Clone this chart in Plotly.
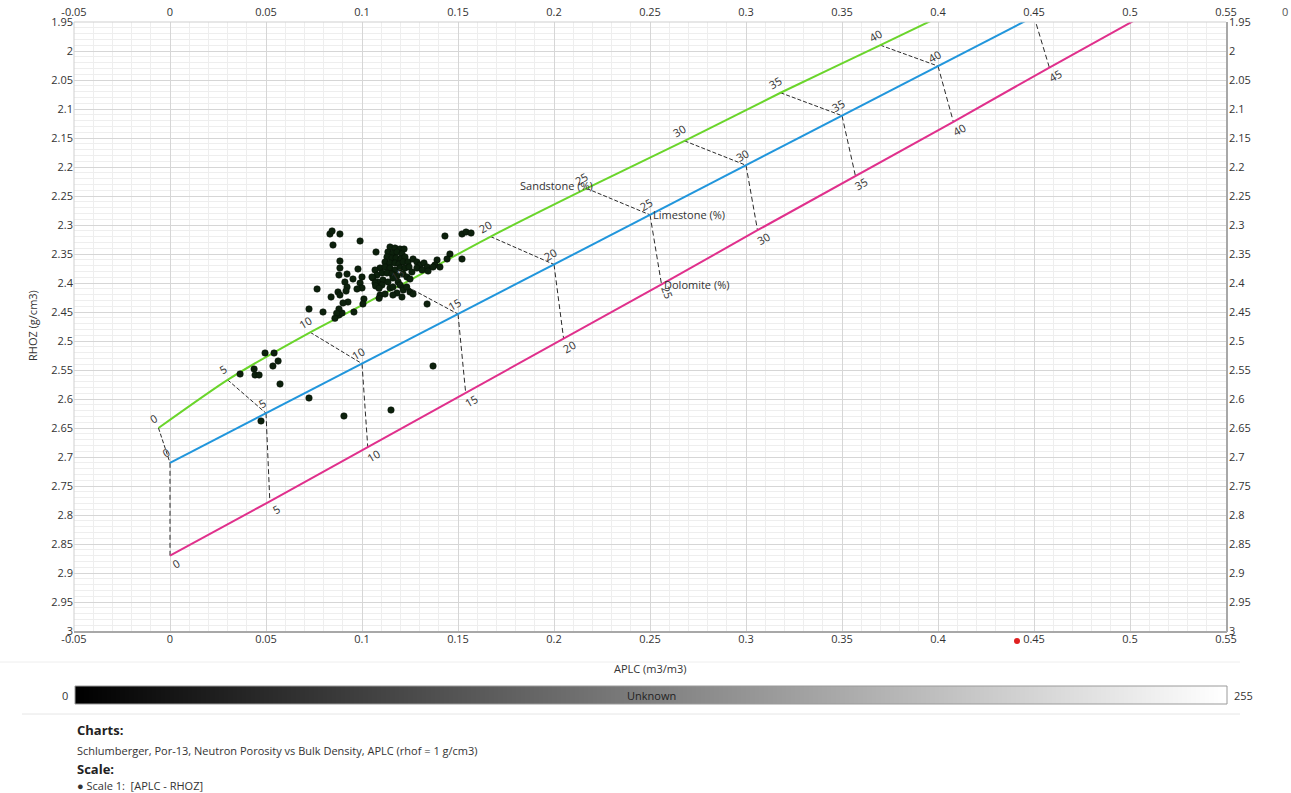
import plotly.graph_objects as go

# ---- chart data -------------------------------------------------------------
x_tick_vals = [-0.05, 0, 0.05, 0.1, 0.15, 0.2, 0.25, 0.3, 0.35, 0.4, 0.45, 0.5, 0.55]
x_tick_text = ["-0.05", "0", "0.05", "0.1", "0.15", "0.2", "0.25", "0.3", "0.35",
               "0.4", "0.45", "0.5", "0.55"]
y_tick_vals = [1.95, 2, 2.05, 2.1, 2.15, 2.2, 2.25, 2.3, 2.35, 2.4, 2.45, 2.5, 2.55,
               2.6, 2.65, 2.7, 2.75, 2.8, 2.85, 2.9, 2.95, 3]
y_tick_text = ["1.95", "2", "2.05", "2.1", "2.15", "2.2", "2.25", "2.3", "2.35", "2.4",
               "2.45", "2.5", "2.55", "2.6", "2.65", "2.7", "2.75", "2.8", "2.85", "2.9",
               "2.95", "3"]

# Porosity grid (%) of the Por-13 chart lines
porosity_pct = [0, 5, 10, 15, 20, 25, 30, 35, 40, 45]

sand_aplc = [-0.006, 0.030, 0.073, 0.121, 0.167, 0.217, 0.268, 0.318, 0.370, 0.422]
sand_rhoz = [2.650, 2.567, 2.485, 2.402, 2.320, 2.237, 2.155, 2.072, 1.990, 1.907]

lime_aplc = [0.000, 0.050, 0.100, 0.150, 0.200, 0.250, 0.300, 0.350, 0.400, 0.450]
lime_rhoz = [2.710, 2.6245, 2.539, 2.4535, 2.368, 2.2825, 2.197, 2.1115, 2.026, 1.9405]

dolo_pct = [0, 5, 10, 15, 20, 25, 30, 35, 40, 45, 50]
dolo_aplc = [0.000, 0.052, 0.103, 0.154, 0.205, 0.256, 0.306, 0.357, 0.408, 0.458, 0.509]
dolo_rhoz = [2.870, 2.7765, 2.683, 2.5895, 2.496, 2.4025, 2.309, 2.2155, 2.122, 2.0285, 1.935]

# Log samples: APLC (m3/m3) vs RHOZ (g/cm3)
aplc = [
    0.0833, 0.0844, 0.0885, 0.0849, 0.0990, 0.1073, 0.1432, 0.1521, 0.1542, 0.1568,
    0.1521, 0.1458, 0.1443, 0.1391, 0.1380, 0.1339, 0.1370, 0.0766, 0.0724, 0.0797,
    0.0958, 0.0839, 0.0495, 0.0542, 0.0563, 0.0536, 0.0438, 0.0443, 0.0464, 0.0365,
    0.0573, 0.0724, 0.1151, 0.0474, 0.0906,
    0.0885, 0.0885, 0.0880, 0.0922, 0.0979, 0.0953, 0.1000, 0.0911, 0.0990, 0.0922,
    0.1000, 0.0974, 0.0917, 0.0875, 0.0885, 0.0927, 0.0901, 0.0880, 0.0896, 0.1010,
    0.1146, 0.1172, 0.1198, 0.1219, 0.1135, 0.1161, 0.1182, 0.1208, 0.1130, 0.1156,
    0.1177, 0.1203, 0.1224, 0.1120, 0.1146, 0.1172, 0.1193, 0.1214, 0.1240, 0.1266,
    0.1286, 0.1302, 0.1323, 0.1339, 0.1094, 0.1120, 0.1146, 0.1172, 0.1198, 0.1224,
    0.1245, 0.1260, 0.1068, 0.1078, 0.1104, 0.1130, 0.1156, 0.1182, 0.1214, 0.1234,
    0.1250, 0.1286, 0.1313, 0.1344, 0.1406, 0.1057, 0.1083, 0.1109, 0.1135, 0.1161,
    0.1188, 0.1068, 0.1104, 0.1146, 0.1161, 0.1198, 0.1214, 0.1182, 0.1208, 0.1094,
    0.1120, 0.1161, 0.1250, 0.1266,
    0.1370, 0.1052, 0.1071, 0.1089, 0.1089, 0.1005, 0.1215, 0.1233, 0.0880, 0.0868,
    0.0859,
]
rhoz = [
    2.3155, 2.3103, 2.3155, 2.3345, 2.3276, 2.3466, 2.3190, 2.3155, 2.3121, 2.3138,
    2.3586, 2.3500, 2.3586, 2.3603, 2.3690, 2.4362, 2.5431, 2.4103, 2.4448, 2.4500,
    2.4500, 2.4241, 2.5207, 2.5207, 2.5345, 2.5431, 2.5483, 2.5586, 2.5586, 2.5569,
    2.5741, 2.5983, 2.6190, 2.6379, 2.6293,
    2.3621, 2.3741, 2.3862, 2.3845, 2.3759, 2.3931, 2.3897, 2.3983, 2.4000, 2.4069,
    2.4086, 2.4103, 2.4138, 2.4155, 2.4207, 2.4328, 2.4345, 2.4552, 2.4517, 2.4276,
    2.3379, 2.3397, 2.3414, 2.3414, 2.3466, 2.3483, 2.3466, 2.3500, 2.3552, 2.3569,
    2.3569, 2.3586, 2.3552, 2.3638, 2.3655, 2.3655, 2.3672, 2.3638, 2.3638, 2.3586,
    2.3638, 2.3690, 2.3655, 2.3724, 2.3741, 2.3724, 2.3741, 2.3776, 2.3741, 2.3741,
    2.3724, 2.3810, 2.3776, 2.3862, 2.3828, 2.3828, 2.3845, 2.3879, 2.3845, 2.3897,
    2.3931, 2.3741, 2.3776, 2.3793, 2.3724, 2.3914, 2.3983, 2.3948, 2.3983, 2.3914,
    2.3983, 2.4000, 2.4034, 2.4086, 2.4069, 2.4034, 2.4086, 2.4172, 2.4241, 2.4207,
    2.4190, 2.4207, 2.4155, 2.4190,
    2.3724, 2.3897, 2.4052, 2.4091, 2.4264, 2.4362, 2.4121, 2.4069, 2.4448, 2.4522,
    2.4609,
]

# ---- page geometry (pixels) ---------------------------------------------------
W, H = 1291, 793
PL, PR, PT, PB = 74, 1226, 22, 631          # plot box
X_MIN, X_MAX, Y_TOP, Y_BOT = -0.05, 0.55, 1.95, 3.0


def fx(px):
    return px / W


def fy(py):
    return 1 - py / H


FONT = "Open Sans, Noto Sans, sans-serif"
TXT = "#333333"
GREEN, BLUE, MAGENTA = "#6ad52b", "#2196dc", "#e0308c"

fig = go.Figure()

# porosity tie lines (same porosity across the three lithologies)
tie_x, tie_y = [], []
for i in range(len(porosity_pct)):
    tie_x += [sand_aplc[i], lime_aplc[i], None]
    tie_y += [sand_rhoz[i], lime_rhoz[i], None]
tie2_x, tie2_y = [], []
for i in range(len(porosity_pct)):
    tie2_x += [lime_aplc[i], dolo_aplc[i], None]
    tie2_y += [lime_rhoz[i], dolo_rhoz[i], None]

fig.add_trace(go.Scatter(x=tie_x, y=tie_y, mode="lines", hoverinfo="skip",
                         line=dict(color="#2a2a2a", width=1, dash="4px,2px")))
fig.add_trace(go.Scatter(x=tie2_x, y=tie2_y, mode="lines", hoverinfo="skip",
                         line=dict(color="#2a2a2a", width=1, dash="5px,3px")))

# lithology lines
fig.add_trace(go.Scatter(x=sand_aplc, y=sand_rhoz, mode="lines", name="Sandstone (%)",
                         line=dict(color=GREEN, width=2, shape="spline", smoothing=0.6)))
fig.add_trace(go.Scatter(x=lime_aplc, y=lime_rhoz, mode="lines", name="Limestone (%)",
                         line=dict(color=BLUE, width=2)))
fig.add_trace(go.Scatter(x=dolo_aplc, y=dolo_rhoz, mode="lines", name="Dolomite (%)",
                         line=dict(color=MAGENTA, width=2)))

# samples
fig.add_trace(go.Scatter(x=aplc, y=rhoz, mode="markers", name="Scale 1",
                         marker=dict(size=6.5, color="#0c200c",
                                     line=dict(color="#061006", width=0.5))))

# the 50 % dolomite label sits on the top edge and is clipped by the plot box
fig.add_trace(go.Scatter(x=[dolo_aplc[-1]], y=[dolo_rhoz[-1]], mode="text",
                         text=[str(dolo_pct[-1])], textposition="bottom right",
                         cliponaxis=True, hoverinfo="skip",
                         textfont=dict(family=FONT, size=11, color=TXT)))

# companion axes for the top and right tick labels
fig.add_trace(go.Scatter(x=[None], y=[None], xaxis="x2", yaxis="y2",
                         hoverinfo="skip", showlegend=False))

# grey-scale colour strip
fig.add_trace(go.Heatmap(z=[list(range(256))], x=list(range(256)), y=[0],
                         xaxis="x3", yaxis="y3", showscale=False, hoverinfo="skip",
                         colorscale=[[0, "#000000"], [1, "#ffffff"]]))

annotations = []


def add_label(x, y, text, dx, dy, angle=-30, anchor="center"):
    annotations.append(dict(x=x, y=y, xref="x", yref="y", text=text, showarrow=False,
                            xshift=dx, yshift=-dy, textangle=angle, xanchor=anchor,
                            font=dict(family=FONT, size=11, color=TXT)))


for p, x, y in zip(porosity_pct, sand_aplc, sand_rhoz):
    if y >= Y_TOP:
        add_label(x, y, str(p), -5, -10)
for p, x, y in zip(porosity_pct, lime_aplc, lime_rhoz):
    if y >= Y_TOP:
        add_label(x, y, str(p), -4, -10)
for p, x, y in zip(dolo_pct, dolo_aplc, dolo_rhoz):
    if y >= Y_TOP:
        add_label(x, y, str(p), 6, 8, angle=(70 if p == 25 else -30))

add_label(sand_aplc[5], sand_rhoz[5], "Sandstone (%)", 8, -3, angle=0, anchor="right")
add_label(lime_aplc[5], lime_rhoz[5], "Limestone (%)", 1, 0, angle=0, anchor="left")
add_label(dolo_aplc[5], dolo_rhoz[5], "Dolomite (%)", 0, 0, angle=0, anchor="left")


def page_text(px, py, text, size=11, bold=False, anchor="left", angle=0, color=TXT):
    annotations.append(dict(x=fx(px), y=fy(py), xref="paper", yref="paper",
                            text=f"<b>{text}</b>" if bold else text, showarrow=False,
                            xanchor=anchor, yanchor="middle", textangle=angle,
                            font=dict(family=FONT, size=size, color=color)))


page_text(32, 326, "RHOZ (g/cm3)", anchor="center", angle=-90)
page_text(650, 668, "APLC (m3/m3)", anchor="center")
page_text(70, 695, "0", anchor="right")
page_text(1232, 695, "255", anchor="left")
page_text(651, 695, "Unknown", anchor="center", color="#222222")
page_text(1285, 12, "0", anchor="center", color="#555555")
page_text(75, 730, "Charts:", size=13, bold=True, color="#222222")
page_text(75, 750, "Schlumberger, Por-13, Neutron Porosity vs Bulk Density, APLC (rhof = 1 g/cm3)",
          size=11)
page_text(75, 769, "Scale:", size=13, bold=True, color="#222222")
page_text(75, 785, "\u25cf Scale 1:  [APLC - RHOZ]", size=11)

shapes = [
    # plot frame: light top/left, darker bottom/right edge
    dict(type="line", xref="paper", yref="paper", x0=fx(PL), x1=fx(PR), y0=fy(PT), y1=fy(PT),
         line=dict(color="#cfcfcf", width=1)),
    dict(type="line", xref="paper", yref="paper", x0=fx(PL), x1=fx(PL), y0=fy(PT), y1=fy(PB),
         line=dict(color="#cfcfcf", width=1)),
    dict(type="line", xref="paper", yref="paper", x0=fx(PL), x1=fx(PR + 1), y0=fy(PB + 1), y1=fy(PB + 1),
         line=dict(color="#a8a8a8", width=2)),
    dict(type="line", xref="paper", yref="paper", x0=fx(PR + 1), x1=fx(PR + 1), y0=fy(PT), y1=fy(PB + 1),
         line=dict(color="#a8a8a8", width=2)),
    # colour strip border
    dict(type="rect", xref="paper", yref="paper", x0=fx(75), x1=fx(1227), y0=fy(686), y1=fy(704),
         line=dict(color="#9a9a9a", width=1)),
    # separators
    dict(type="line", xref="paper", yref="paper", x0=0, x1=fx(1240), y0=fy(662), y1=fy(662),
         line=dict(color="#eeeeee", width=1)),
    dict(type="line", xref="paper", yref="paper", x0=fx(22), x1=fx(1240), y0=fy(714), y1=fy(714),
         line=dict(color="#e6e6e6", width=1)),
    # cursor dot under the x axis
    dict(type="circle", xref="paper", yref="paper", x0=fx(1014), x1=fx(1020), y0=fy(638), y1=fy(644),
         fillcolor="#e02020", line=dict(width=0)),
]

grid_major = "#d6d6d6"
grid_minor = "#eeeeee"
tick_font = dict(family=FONT, size=11, color=TXT)

xaxis_common = dict(range=[X_MIN, X_MAX], domain=[fx(PL), fx(PR)], tickvals=x_tick_vals,
                    ticktext=x_tick_text, tickfont=tick_font, showline=False, zeroline=False,
                    ticks="", fixedrange=True, automargin=False)
yaxis_common = dict(range=[Y_BOT, Y_TOP], domain=[fy(PB), fy(PT)], tickvals=y_tick_vals,
                    ticktext=y_tick_text, tickfont=tick_font, showline=False, zeroline=False,
                    ticks="", fixedrange=True, automargin=False)

fig.update_layout(
    width=W, height=H, margin=dict(l=0, r=0, t=0, b=0, pad=0, autoexpand=False),
    paper_bgcolor="#ffffff", plot_bgcolor="#ffffff", showlegend=False,
    font=dict(family=FONT, color=TXT),
    xaxis=dict(**xaxis_common, showgrid=True, gridcolor=grid_major, gridwidth=1,
               minor=dict(dtick=0.01, showgrid=True, gridcolor=grid_minor, ticks="")),
    yaxis=dict(**yaxis_common, showgrid=True, gridcolor=grid_major, gridwidth=1,
               minor=dict(dtick=0.01, showgrid=True, gridcolor=grid_minor, ticks="")),
    xaxis2=dict(**xaxis_common, overlaying="x", side="top", anchor="y2", showgrid=False,
                ticklabelstandoff=3),
    yaxis2=dict(**yaxis_common, overlaying="y", side="right", anchor="x2", showgrid=False,
                ticklabelstandoff=2),
    xaxis3=dict(domain=[fx(75), fx(1227)], anchor="y3", visible=False, range=[-0.5, 255.5],
                fixedrange=True, automargin=False),
    yaxis3=dict(domain=[fy(704), fy(686)], anchor="x3", visible=False, range=[-0.5, 0.5],
                fixedrange=True, automargin=False),
    annotations=annotations,
    shapes=shapes,
)

fig.write_html("out.html")
